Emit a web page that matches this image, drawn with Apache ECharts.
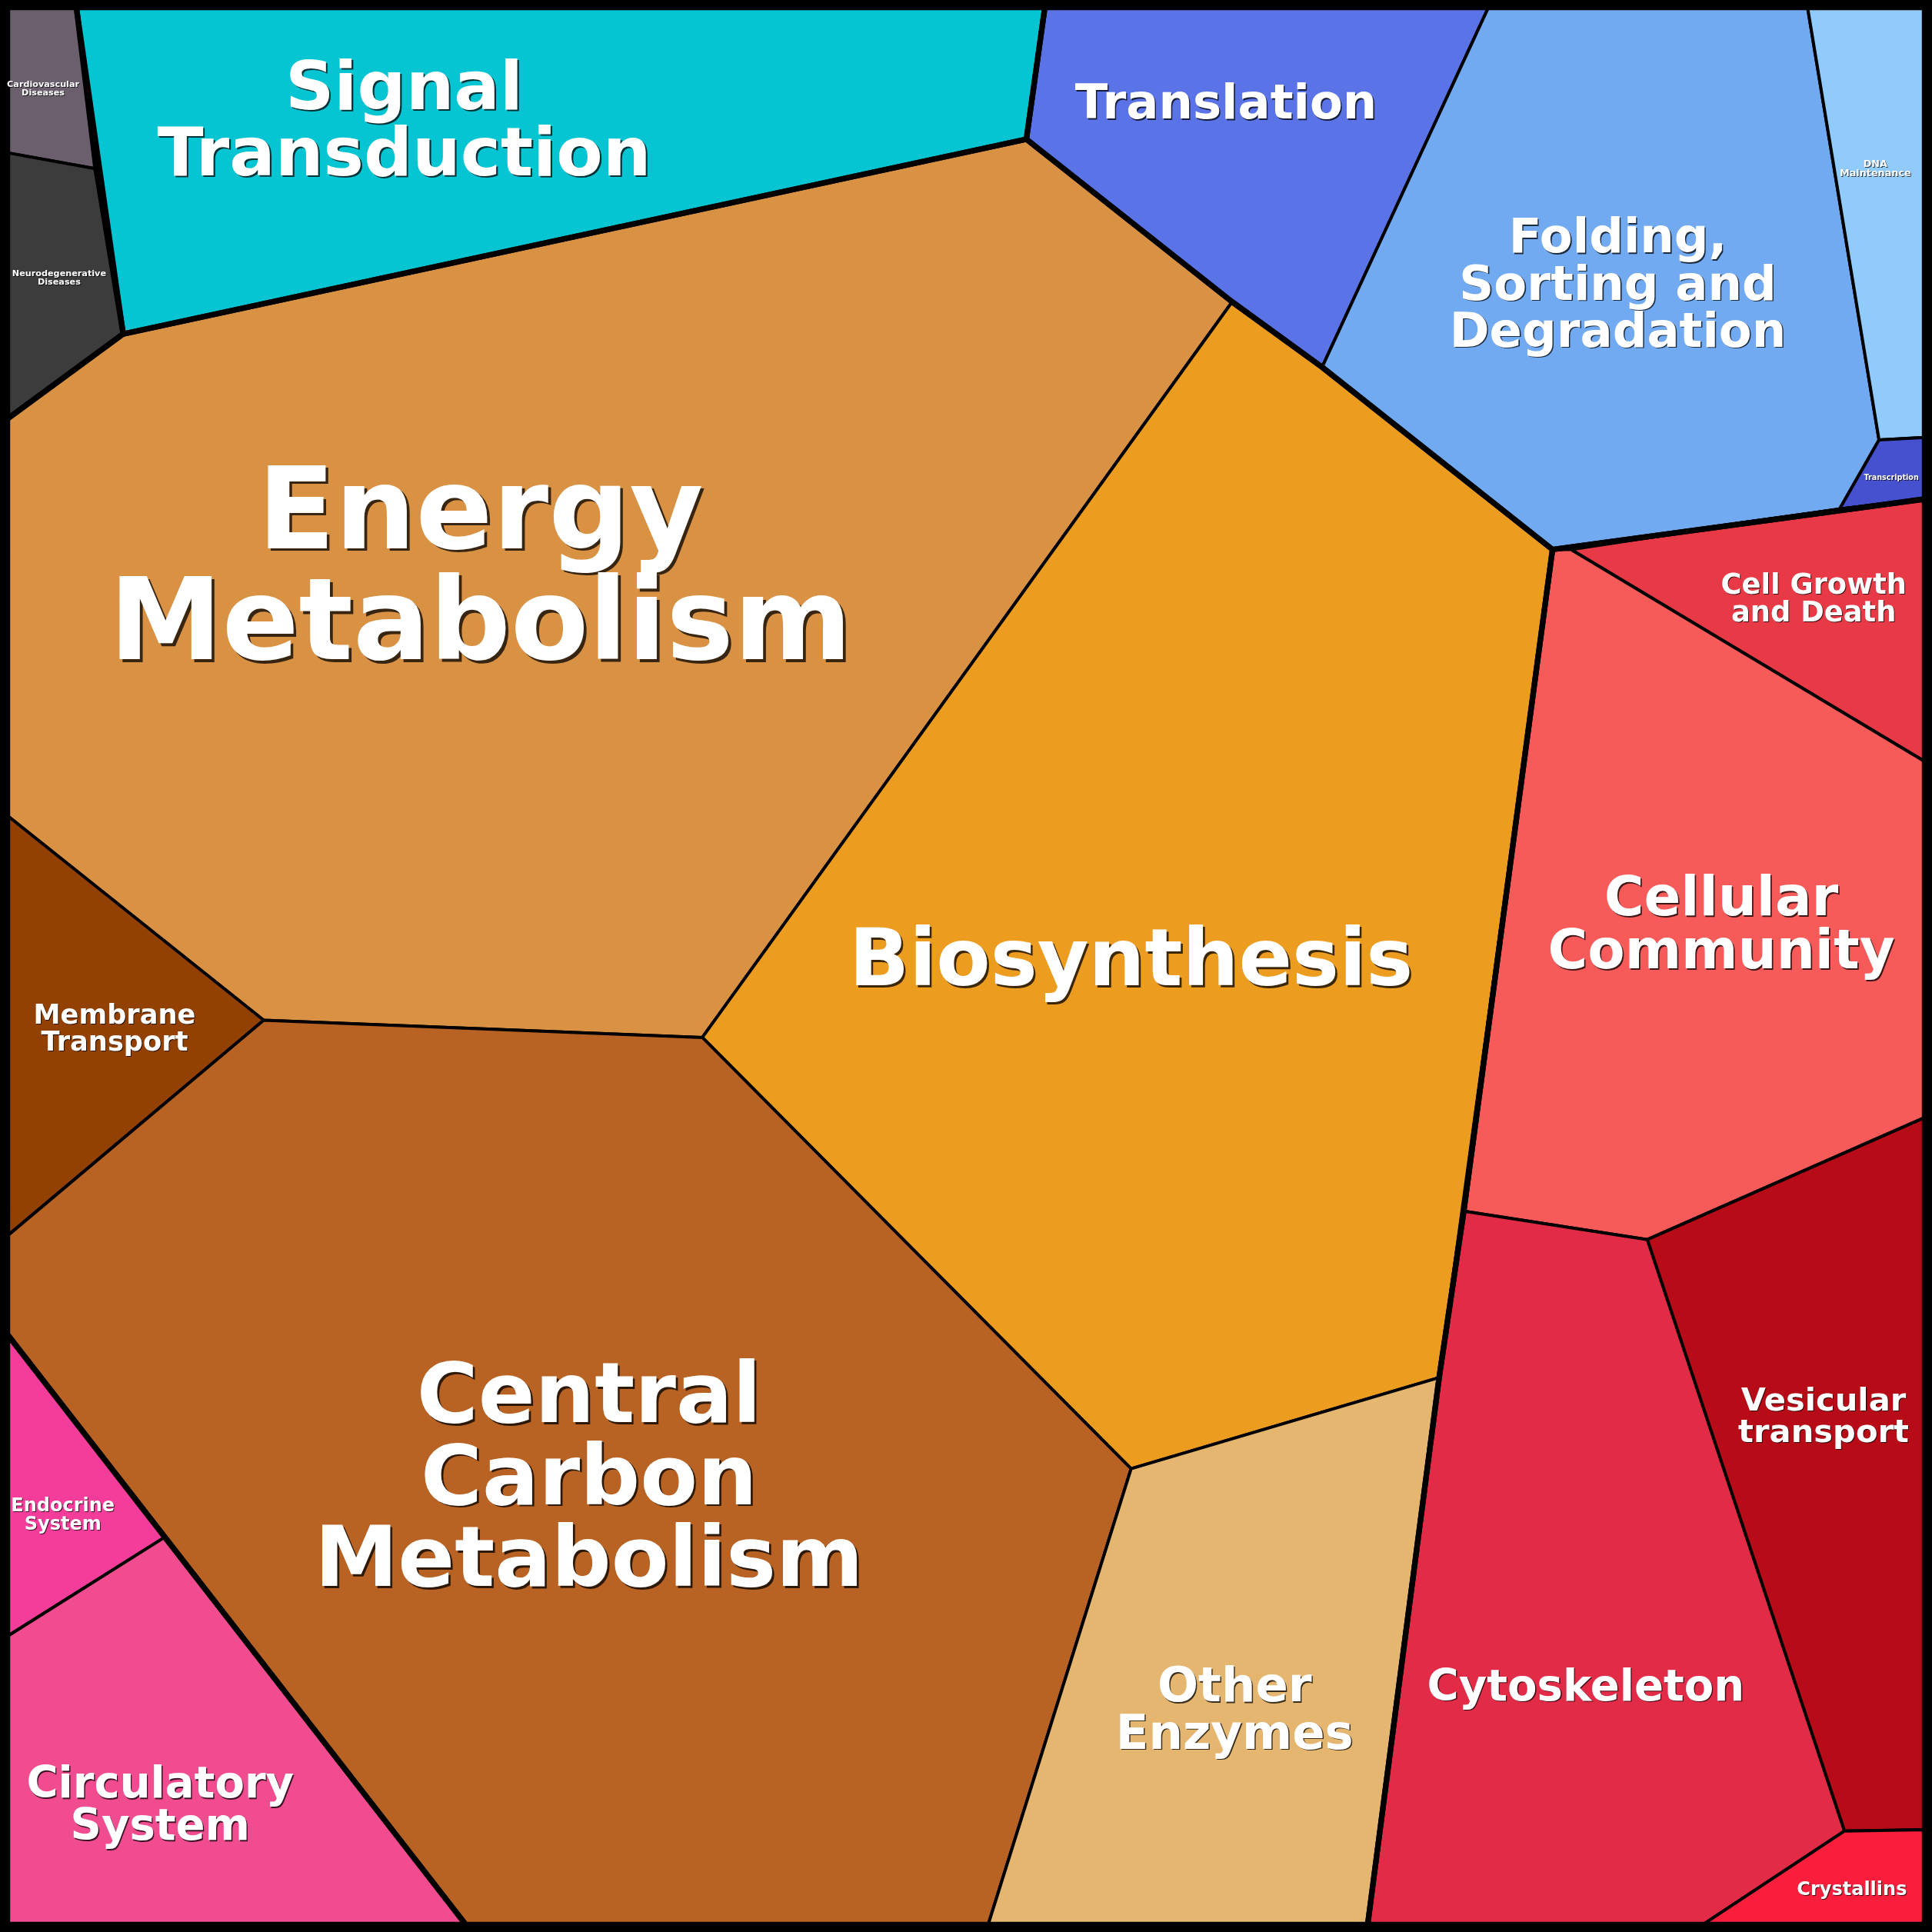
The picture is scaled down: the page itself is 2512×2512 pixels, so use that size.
<!DOCTYPE html>
<html><head><meta charset="utf-8">
<script src="https://cdn.jsdelivr.net/npm/echarts@6/dist/echarts.min.js"></script>
<style>html,body{margin:0;padding:0;background:#000}#c{width:2512px;height:2512px}</style>
</head><body><div id="c"></div>
<script>
// Voronoi cell data (in reference units 0..1568, y downward)
const cellNames = ["Cardiovascular\nDiseases","Neurodegenerative\nDiseases","Signal\nTransduction","Energy\nMetabolism","Translation","Folding,\nSorting and\nDegradation","DNA\nMaintenance","Transcription","Biosynthesis","Cell Growth\nand Death","Cellular\nCommunity","Membrane\nTransport","Central\nCarbon\nMetabolism","Endocrine\nSystem","Circulatory\nSystem","Other\nEnzymes","Cytoskeleton","Vesicular\ntransport","Crystallins"];
const cellColors = ["#6b5f6e","#3d3c3d","#06c5d3","#d99143","#5a74e8","#72aaf2","#90cbfb","#4651cf","#ec9c1f","#e83a46","#f65a59","#924103","#b86323","#f43c9a","#f04c8f","#e5b66f","#e22b47","#b70b17","#f91f3c"];
const cellPolygons = [
 [[6,6],[62,6],[78,137],[6,124]],
 [[6,124],[78,137],[100,271],[6,340]],
 [[62,6],[848,6],[833,113],[100,271]],
 [[6,340],[100,271],[833,113],[1000,245],[570,842],[214,828],[6,662]],
 [[848,6],[1208,6],[1073,298],[1000,245],[833,113]],
 [[1208,6],[1467,6],[1525,357],[1493,413],[1260,446],[1073,298]],
 [[1467,6],[1562,6],[1562,355],[1525,357]],
 [[1525,357],[1562,355],[1562,405],[1493,413]],
 [[1000,245],[1073,298],[1260,446],[1168,1118],[918,1192],[570,842]],
 [[1275,446],[1493,413],[1562,405],[1562,618]],
 [[1260,446],[1275,446],[1562,618],[1562,907],[1337,1006],[1188,983]],
 [[6,662],[214,828],[6,1003]],
 [[214,828],[570,842],[918,1192],[802,1562],[378,1562],[133,1248],[6,1083],[6,1003]],
 [[6,1083],[133,1248],[6,1328]],
 [[6,1328],[133,1248],[378,1562],[6,1562]],
 [[918,1192],[1168,1118],[1110,1562],[802,1562]],
 [[1188,983],[1337,1006],[1497,1486],[1382,1562],[1110,1562],[1168,1118]],
 [[1337,1006],[1562,907],[1562,1485],[1497,1486]],
 [[1497,1486],[1562,1485],[1562,1562],[1382,1562]]
];
const groupPolygons = [
 [[6,6],[62,6],[78,137],[100,271],[6,340]],
 [[62,6],[848,6],[833,113],[100,271]],
 [[848,6],[1562,6],[1562,405],[1260,446],[1073,298],[1000,245],[833,113]],
 [[6,340],[100,271],[833,113],[1000,245],[1073,298],[1260,446],[1188,983],[1168,1118],[1110,1562],[378,1562],[6,1083]],
 [[1260,446],[1562,405],[1562,1562],[1110,1562],[1168,1118],[1188,983]],
 [[6,1083],[378,1562],[6,1562]]
];
const labelPos = [[35,72],[48,226],[328,101],[390,466],[995,86],[1313,233],[1522,137],[1535,388],[918,783],[1472,487],[1397,753],[93,836],[478,1203],[51,1230],[130,1467],[1002,1390],[1287,1371],[1480,1151],[1503,1534]];
const labelSize = [7,7,55,92,39,39,8,6,64,23,44,22,68,15,35,39,35,26,15];

const S = 2512/1568;
const chart = echarts.init(document.getElementById('c'));
function polyItem(pts, api, style){
  return {type:'polygon', shape:{points: pts.map(p=>api.coord(p))}, style};
}
chart.setOption({
  animation:false,
  backgroundColor:'#000',
  grid:{left:0,right:0,top:0,bottom:0},
  xAxis:{type:'value',min:0,max:1568,show:false},
  yAxis:{type:'value',min:0,max:1568,inverse:true,show:false},
  series:[
    {type:'custom', data:cellPolygons.map((p,i)=>[p[0][0],p[0][1],i]),
     renderItem:(params,api)=>polyItem(cellPolygons[params.dataIndex],api,{fill:cellColors[params.dataIndex],stroke:'#000',lineWidth:2.5*S,lineJoin:'round'})},
    {type:'custom', data:groupPolygons.map((p,i)=>[p[0][0],p[0][1],i]), z:3,
     renderItem:(params,api)=>polyItem(groupPolygons[params.dataIndex],api,{fill:null,stroke:'#000',lineWidth:4.5*S,lineJoin:'round'})},
    {type:'custom', data:[[0,0]], z:4,
     renderItem:(params,api)=>polyItem([[3,3],[1565,3],[1565,1565],[3,1565]],api,{fill:null,stroke:'#000',lineWidth:7*S})},
    {type:'custom', z:5, data:labelPos.map((p,i)=>[p[0],p[1],i]),
     renderItem:(params,api)=>{
       const i=params.dataIndex, pt=api.coord([api.value(0),api.value(1)]), fs=labelSize[i]*S;
       const off=Math.max(1,fs*0.025);
       const st=(fill)=>({text:cellNames[i], fill, font:'bold '+fs+'px "DejaVu Sans"', lineHeight:fs*0.98, align:'center', verticalAlign:'middle'});
       return {type:'group', children:[
         {type:'text', x:pt[0]+off, y:pt[1]+off, style:st('rgba(0,0,0,0.75)')},
         {type:'text', x:pt[0], y:pt[1], style:st('#ffffff')}
       ]};
     }}
  ]
});
</script></body></html>
